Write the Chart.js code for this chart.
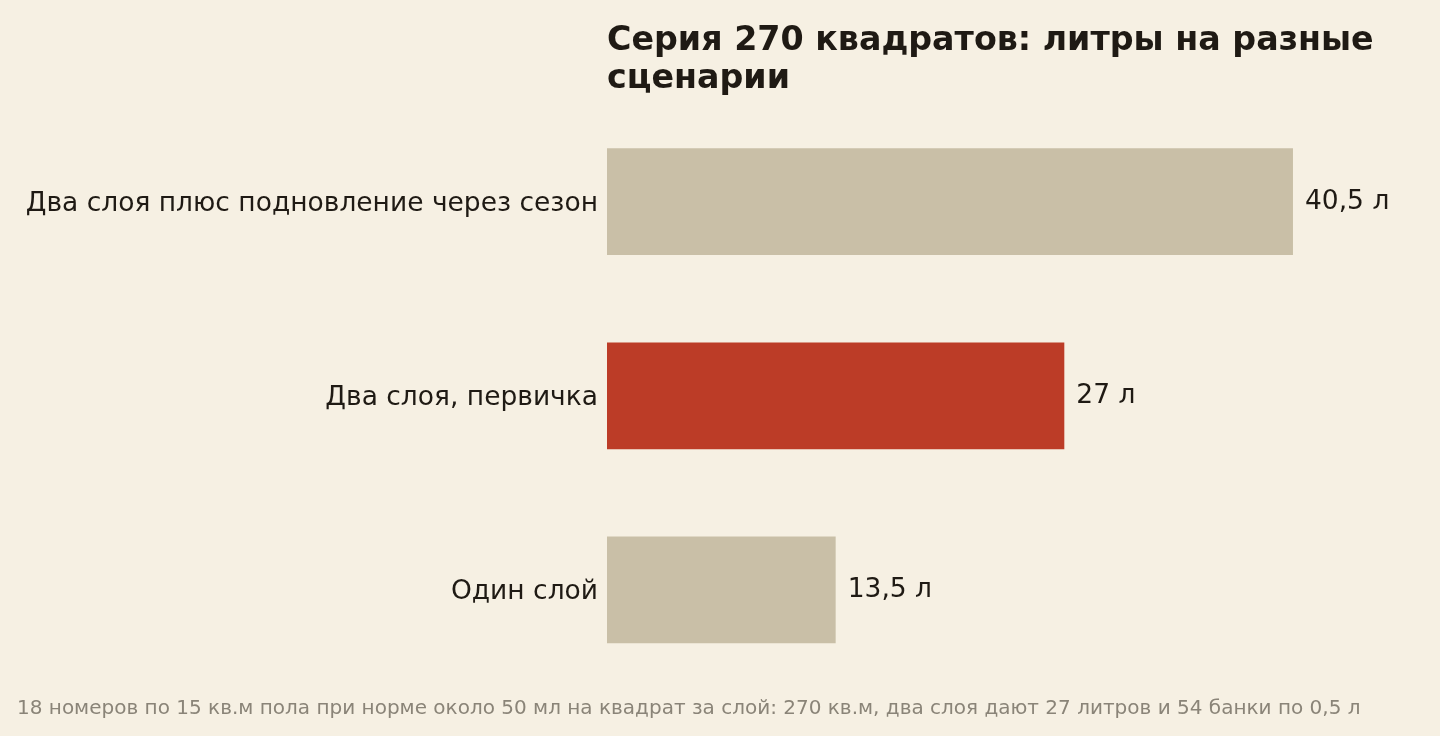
<!DOCTYPE html>
<html>
<head>
<meta charset="utf-8">
<script src="https://cdn.jsdelivr.net/npm/chart.js@4"></script>
<style>
  html, body { margin: 0; padding: 0; background: #f6f0e3; }
  #wrap { position: relative; width: 1440px; height: 736px; }
  #note {
    position: absolute; left: 17px; top: 695px; line-height: 24px;
    font: 20px "DejaVu Sans", sans-serif; color: #8a8478; white-space: nowrap;
  }
</style>
</head>
<body>
<div id="wrap">
  <canvas id="chart" width="1440" height="736"></canvas>
  <div id="note">18 номеров по 15 кв.м пола при норме около 50 мл на квадрат за слой: 270 кв.м, два слоя дают 27 литров и 54 банки по 0,5 л</div>
</div>
<script>
// сценарии и литры
var scenarios = ["Два слоя плюс подновление через сезон", "Два слоя, первичка", "Один слой"];
var liters = [40.5, 27, 13.5];
var valueLabels = ["40,5 л", "27 л", "13,5 л"];
var barColors = ["#c9bfa7", "#bc3c27", "#c9bfa7"];

document.addEventListener("DOMContentLoaded", function () {
    var ctx = document.getElementById("chart").getContext("2d");
    Chart.defaults.font.family = "'DejaVu Sans', sans-serif";

    // подписи значений справа от полос
    var valuePlugin = {
        id: "values",
        afterDatasetsDraw: function (chart) {
            var c = chart.ctx;
            var meta = chart.getDatasetMeta(0);
            c.save();
            c.font = "26.5px 'DejaVu Sans', sans-serif";
            c.fillStyle = "#1f1a14";
            c.textAlign = "left";
            c.textBaseline = "middle";
            meta.data.forEach(function (bar, i) {
                c.fillText(valueLabels[i], bar.x + 12, bar.y);
            });
            c.restore();
        }
    };

    new Chart(ctx, {
        type: "bar",
        data: {
            labels: scenarios,
            datasets: [{
                data: liters,
                backgroundColor: barColors,
                borderWidth: 0,
                categoryPercentage: 1,
                barPercentage: 0.55
            }]
        },
        options: {
            indexAxis: "y",
            responsive: false,
            animation: false,
            layout: { padding: { top: 0, right: 20, bottom: 49, left: 0 } },
            plugins: {
                legend: { display: false },
                tooltip: { enabled: false },
                title: {
                    display: true,
                    text: ["Серия 270 квадратов: литры на разные", "сценарии"],
                    align: "start",
                    fullSize: false,
                    color: "#1f1a14",
                    font: { size: 33.3, weight: "bold", lineHeight: 1.15 },
                    padding: { top: 22, bottom: 6 }
                }
            },
            scales: {
                x: {
                    display: false,
                    min: 0,
                    max: 48
                },
                y: {
                    grid: { display: false },
                    border: { display: false },
                    ticks: {
                        color: "#1f1a14",
                        font: { size: 26.5 },
                        padding: 1,
                        labelOffset: 2
                    },
                    afterFit: function (scale) { scale.width = 607; }
                }
            }
        },
        plugins: [valuePlugin]
    });
});
</script>
</body>
</html>
